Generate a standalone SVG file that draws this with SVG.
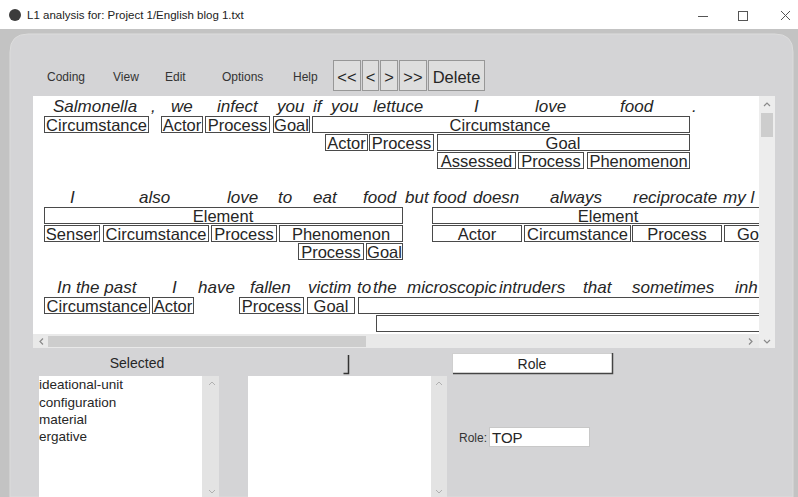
<svg xmlns="http://www.w3.org/2000/svg" width="798" height="497" viewBox="0 0 798 497">
<style>
text{font-family:"Liberation Sans",Arial,sans-serif;fill:#262626}
.w{font-size:17px;font-style:italic}
.l{font-size:16.5px;text-anchor:middle}
.b{fill:#fff;stroke:#4a4a4a;stroke-width:1}
.m{font-size:12px;fill:#333}
.btn{fill:#dedede;stroke:#979797;stroke-width:1}
.bt{font-size:16.5px;text-anchor:middle}
.s{font-size:14px}
.li{font-size:13.5px}
.ch{fill:none;stroke:#8a8a8a;stroke-width:1.2}
.chl{fill:none;stroke:#b0b0b0;stroke-width:1}
.ic{fill:none;stroke:#555;stroke-width:1}
</style>
<defs>
<clipPath id="pane"><rect x="33" y="96" width="726" height="238"/></clipPath>
</defs>
<rect x="0" y="0" width="798" height="497" fill="#fff"/>
<g id="titlebar">
<circle cx="15" cy="15" r="6" fill="#3c3c3c"/>
<text x="27" y="19" style="font-size:11.5px;fill:#222">L1 analysis for: Project 1/English blog 1.txt</text>
<path class="ic" d="M698 16.5H708"/>
<rect class="ic" x="738.5" y="11.5" width="9" height="9"/>
<path class="ic" d="M781 11L790 20M790 11L781 20"/>
</g>
<g id="frame">
<rect x="0" y="29" width="798" height="468" fill="#c3c3c3"/>
<path d="M10 497V52Q10 34 28 34H775Q793 34 793 52V497Z" fill="#d4d4d6" stroke="#dcdcdc" stroke-width="1"/>
</g>
<g id="menu">
<text class="m" x="47" y="81">Coding</text>
<text class="m" x="113" y="81">View</text>
<text class="m" x="165" y="81">Edit</text>
<text class="m" x="222" y="81">Options</text>
<text class="m" x="293" y="81">Help</text>
</g>
<g id="toolbar">
<rect class="btn" x="333.5" y="60.5" width="27" height="30"/>
<text class="bt" x="347" y="83">&lt;&lt;</text>
<rect class="btn" x="362.5" y="60.5" width="16" height="30"/>
<text class="bt" x="370.5" y="83">&lt;</text>
<rect class="btn" x="380.5" y="60.5" width="17" height="30"/>
<text class="bt" x="389" y="83">&gt;</text>
<rect class="btn" x="399.5" y="60.5" width="27" height="30"/>
<text class="bt" x="413" y="83">&gt;&gt;</text>
<rect class="btn" x="428.5" y="60.5" width="56" height="30"/>
<text class="bt" x="456.5" y="83">Delete</text>
</g>
<g id="text-pane">
<rect x="33" y="96" width="726" height="238" fill="#fff"/>
<g clip-path="url(#pane)">
<g id="sentence-1">
<text class="w" x="53" y="112">Salmonella</text>
<text class="w" x="151" y="112">,</text>
<text class="w" x="171" y="112">we</text>
<text class="w" x="217" y="112">infect</text>
<text class="w" x="277" y="112">you</text>
<text class="w" x="313" y="112">if</text>
<text class="w" x="331" y="112">you</text>
<text class="w" x="373" y="112">lettuce</text>
<text class="w" x="474" y="112">I</text>
<text class="w" x="535" y="112">love</text>
<text class="w" x="620" y="112">food</text>
<text class="w" x="692" y="112">.</text>
<rect class="b" x="44.5" y="116.5" width="104" height="16"/><text class="l" x="96.5" y="131">Circumstance</text>
<rect class="b" x="161.5" y="116.5" width="41" height="16"/><text class="l" x="182" y="131">Actor</text>
<rect class="b" x="205.5" y="116.5" width="64" height="16"/><text class="l" x="237.5" y="131">Process</text>
<rect class="b" x="273.5" y="116.5" width="36" height="16"/><text class="l" x="291.5" y="131">Goal</text>
<rect class="b" x="312.5" y="116.5" width="377" height="16"/><text class="l" x="500" y="131">Circumstance</text>
<rect class="b" x="325.5" y="134.5" width="42" height="16"/><text class="l" x="346.5" y="149">Actor</text>
<rect class="b" x="369.5" y="134.5" width="64" height="16"/><text class="l" x="401.5" y="149">Process</text>
<rect class="b" x="437.5" y="134.5" width="252" height="16"/><text class="l" x="563" y="149">Goal</text>
<rect class="b" x="437.5" y="152.5" width="78" height="16"/><text class="l" x="476.5" y="167">Assessed</text>
<rect class="b" x="518.5" y="152.5" width="65" height="16"/><text class="l" x="551" y="167">Process</text>
<rect class="b" x="587.5" y="152.5" width="102" height="16"/><text class="l" x="638.5" y="167">Phenomenon</text>
</g>
<g id="sentence-2">
<text class="w" x="70" y="203">I</text>
<text class="w" x="139" y="203">also</text>
<text class="w" x="227" y="203">love</text>
<text class="w" x="278" y="203">to</text>
<text class="w" x="313" y="203">eat</text>
<text class="w" x="363" y="203">food</text>
<text class="w" x="405" y="203">but</text>
<text class="w" x="433" y="203">food</text>
<text class="w" x="473" y="203">doesn</text>
<text class="w" x="550" y="203">always</text>
<text class="w" x="633" y="203">reciprocate</text>
<text class="w" x="723" y="203">my l</text>
<rect class="b" x="44.5" y="207.5" width="358" height="16"/><text class="l" x="223" y="222">Element</text>
<rect class="b" x="432.5" y="207.5" width="360" height="16"/><text class="l" x="608" y="222">Element</text>
<rect class="b" x="44.5" y="225.5" width="55" height="16"/><text class="l" x="72" y="240">Senser</text>
<rect class="b" x="103.5" y="225.5" width="105" height="16"/><text class="l" x="156" y="240">Circumstance</text>
<rect class="b" x="211.5" y="225.5" width="65" height="16"/><text class="l" x="244" y="240">Process</text>
<rect class="b" x="279.5" y="225.5" width="123" height="16"/><text class="l" x="341" y="240">Phenomenon</text>
<rect class="b" x="432.5" y="225.5" width="89" height="16"/><text class="l" x="477" y="240">Actor</text>
<rect class="b" x="524.5" y="225.5" width="106" height="16"/><text class="l" x="577.5" y="240">Circumstance</text>
<rect class="b" x="632.5" y="225.5" width="89" height="16"/><text class="l" x="677" y="240">Process</text>
<rect class="b" x="724.5" y="225.5" width="80" height="16"/><text x="737" y="240" style="font-size:16.5px">Go</text>
<rect class="b" x="298.5" y="243.5" width="65" height="16"/><text class="l" x="331" y="258">Process</text>
<rect class="b" x="366.5" y="243.5" width="36" height="16"/><text class="l" x="384.5" y="258">Goal</text>
</g>
<g id="sentence-3">
<text class="w" x="57" y="293">In the past</text>
<text class="w" x="172" y="293">I</text>
<text class="w" x="198" y="293">have</text>
<text class="w" x="250" y="293">fallen</text>
<text class="w" x="308" y="293">victim</text>
<text class="w" x="357" y="293">to</text>
<text class="w" x="373" y="293">the</text>
<text class="w" x="407" y="293">microscopic</text>
<text class="w" x="499" y="293">intruders</text>
<text class="w" x="583" y="293">that</text>
<text class="w" x="632" y="293">sometimes</text>
<text class="w" x="735" y="293">inh</text>
<rect class="b" x="44.5" y="297.5" width="105" height="16"/><text class="l" x="97" y="312">Circumstance</text>
<rect class="b" x="152.5" y="297.5" width="41" height="16"/><text class="l" x="173" y="312">Actor</text>
<rect class="b" x="239.5" y="297.5" width="64" height="16"/><text class="l" x="271.5" y="312">Process</text>
<rect class="b" x="307.5" y="297.5" width="47" height="16"/><text class="l" x="331" y="312">Goal</text>
<rect class="b" x="358.5" y="297.5" width="440" height="16"/>
<rect class="b" x="376.5" y="315.5" width="420" height="16"/>
</g>
</g>
<g id="scrollbars">
<rect x="33" y="334" width="726" height="14" fill="#e9e9e9"/>
<rect x="48" y="336" width="318" height="11" fill="#cdcdcd"/>
<path class="ch" d="M43 338.5L40 341.5L43 344.5"/>
<path class="ch" d="M749 338.5L752 341.5L749 344.5"/>
<rect x="759" y="96" width="16" height="252" fill="#ededed"/>
<rect x="761" y="113" width="12" height="24" fill="#cdcdcd"/>
<path class="ch" d="M764 106L767 103L770 106"/>
<path class="ch" d="M764 340L767 343L770 340"/>
</g>
</g>
<g id="lower-panel">
<text class="s" x="137" y="368" text-anchor="middle">Selected</text>
<path d="M343.5 373.5H348.5V355" fill="none" stroke="#333" stroke-width="1.5"/>
<rect x="452.5" y="353.5" width="160" height="20" fill="#fff" stroke="#cfcfcf"/>
<path d="M453 373.5H612.5V353" fill="none" stroke="#444" stroke-width="1.5"/>
<text class="s" x="532" y="369" text-anchor="middle">Role</text>
<rect x="39" y="376" width="163" height="121" fill="#fff"/>
<rect x="202" y="376" width="17" height="121" fill="#e3e3e3"/>
<path class="chl" d="M209 385L212 382L215 385"/>
<path class="chl" d="M209 490L212 493L215 490"/>
<text class="li" x="39" y="389">ideational-unit</text>
<text class="li" x="39" y="406.5">configuration</text>
<text class="li" x="39" y="423.5">material</text>
<text class="li" x="39" y="440.5">ergative</text>
<rect x="248" y="376" width="183" height="121" fill="#fff"/>
<rect x="431" y="376" width="16" height="121" fill="#e3e3e3"/>
<path class="chl" d="M436 385L439 382L442 385"/>
<path class="chl" d="M436 490L439 493L442 490"/>
<text x="459" y="442" style="font-size:12px;fill:#333">Role:</text>
<rect x="489.5" y="427.5" width="100" height="19" fill="#fff" stroke="#c8c8c8"/>
<text x="492" y="443" style="font-size:15px">TOP</text>
</g>
</svg>
